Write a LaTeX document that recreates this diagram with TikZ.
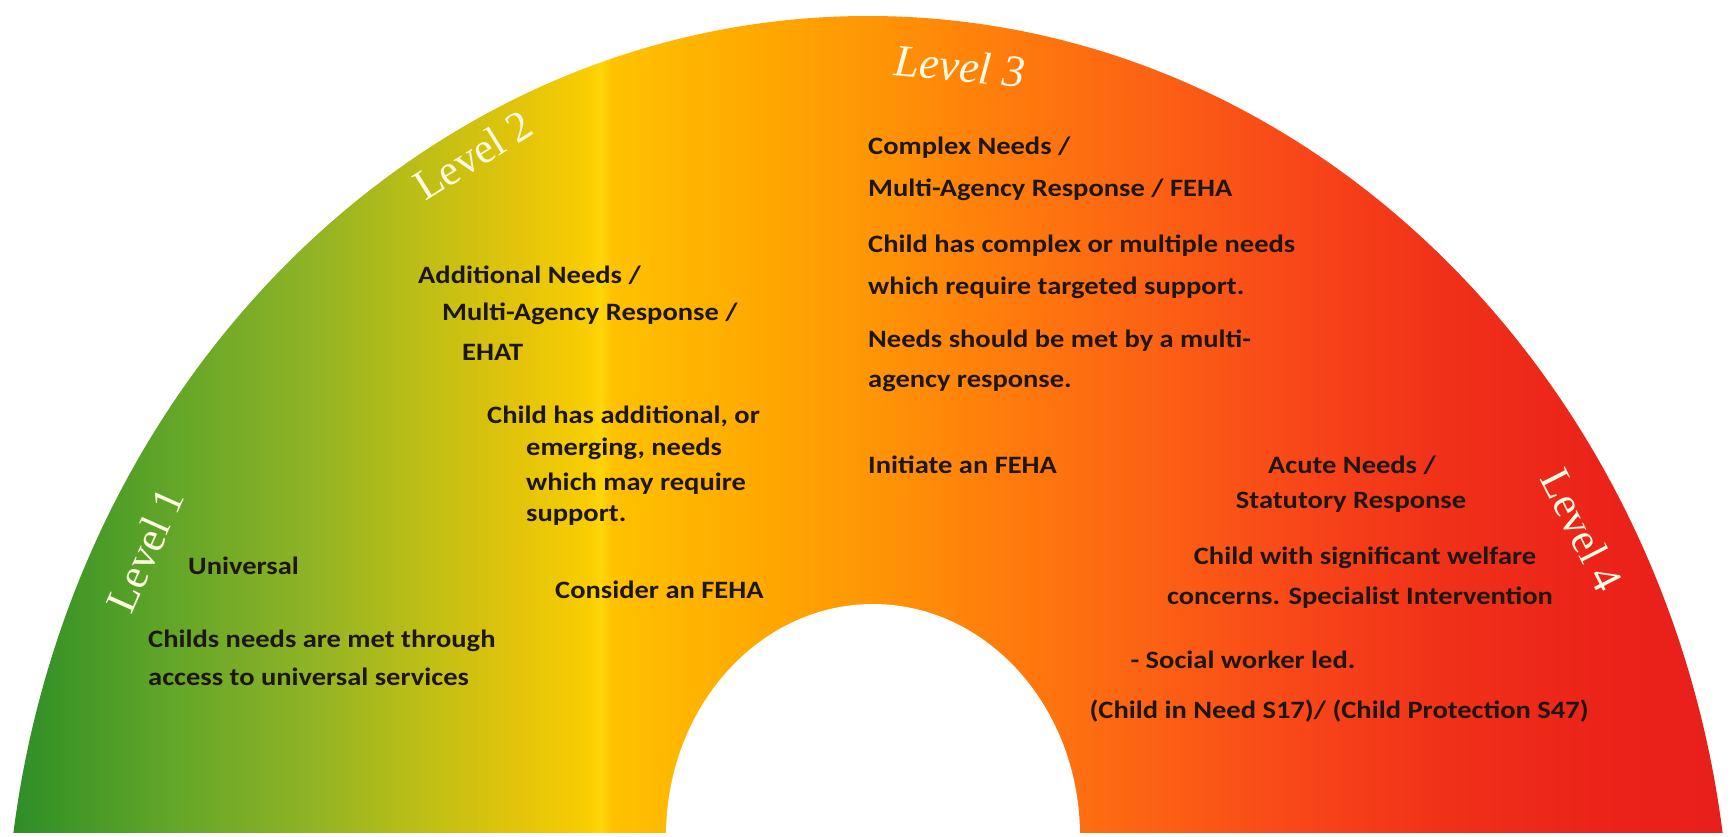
\documentclass[tikz,border=0pt]{standalone}
\usepackage{fontspec}
\newfontfamily\bodyfont{Carlito}[FakeStretch=1.14]
\newfontfamily\lvlfont{Liberation Serif}
\definecolor{txtcol}{RGB}{30,22,16}
\definecolor{lvlcol}{RGB}{255,250,226}
\pgfdeclarehorizontalshading{lvlshade}{100bp}{%
rgb(0bp)=(0.16,0.55,0.15);
rgb(25bp)=(0.16,0.55,0.15);
rgb(29.32bp)=(0.36,0.64,0.157);
rgb(33.64bp)=(0.549,0.698,0.149);
rgb(37.10bp)=(0.74,0.745,0.086);
rgb(39.98bp)=(0.89,0.77,0.039);
rgb(41.99bp)=(0.980,0.804,0);
rgb(42.28bp)=(1,0.84,0.04);
rgb(42.63bp)=(1,0.76,0);
rgb(46.60bp)=(1,0.667,0);
rgb(50.06bp)=(1,0.588,0.02);
rgb(53.80bp)=(1,0.49,0.047);
rgb(58.12bp)=(0.988,0.384,0.078);
rgb(62.44bp)=(0.973,0.275,0.098);
rgb(66.76bp)=(0.941,0.188,0.098);
rgb(71.08bp)=(0.922,0.137,0.098);
rgb(75bp)=(0.91,0.118,0.11);
rgb(100bp)=(0.91,0.118,0.11)}
\tikzset{
  txt/.style={font=\bodyfont\bfseries\fontsize{25}{30}\selectfont, text=txtcol, inner sep=0pt},
  lvltxt/.style={font=\lvlfont\fontsize{43}{48}\selectfont, text=lvlcol, inner sep=0pt}
}
\begin{document}
\begin{tikzpicture}[x=1pt,y=-1pt]
\useasboundingbox (0,0) rectangle (1736,836);
\fill[white] (0,0) rectangle (1736,836);
% rainbow band
\begin{scope}
  \clip (0,0) rectangle (1736,832);
  \clip (868,966) ellipse [x radius=863, y radius=950];
  \shade[shading=lvlshade] (0,0) rectangle (1736,836);
\end{scope}
\fill[white] (873,836) ellipse [x radius=207, y radius=232];
% level labels
\node[lvltxt, rotate=66] (lv1) at (145,550) {Level 1};
\node[lvltxt, rotate=32] (lv2) at (473,155) {Level 2};
\node[lvltxt, rotate=-5, font=\lvlfont\itshape\fontsize{45}{48}\selectfont] (lv3) at (960,66) {Level 3};
\node[lvltxt, rotate=-63] (lv4) at (1582,530) {Level 4};
% level 1 text
\node[txt, anchor=west] (univ) at (188,566) {Universal};
\node[txt, anchor=west] (l1a) at (148,641) {Childs needs are met through};
\node[txt, anchor=west] (l1b) at (148,677) {access to universal services};
% level 2 text
\node[txt, anchor=west] (l2a) at (418,275) {Additional Needs /};
\node[txt, anchor=west] (l2b) at (442,314) {Multi-Agency Response /};
\node[txt, anchor=west] (l2c) at (462,352) {EHAT};
\node[txt, anchor=west] (l2d) at (487,416) {Child has additional, or};
\node[txt, anchor=west] (l2e) at (526,449) {emerging, needs};
\node[txt, anchor=west] (l2f) at (526,484) {which may require};
\node[txt, anchor=west] (l2g) at (526,516) {support.};
\node[txt, anchor=west] (l2h) at (555,590) {Consider an FEHA};
% level 3 text
\node[txt, anchor=west] (l3a) at (868,148) {Complex Needs /};
\node[txt, anchor=west] (l3b) at (868,190) {Multi-Agency Response / FEHA};
\node[txt, anchor=west] (l3c) at (868,246) {Child has complex or multiple needs};
\node[txt, anchor=west] (l3d) at (868,288) {which require targeted support.};
\node[txt, anchor=west] (l3e) at (868,341) {Needs should be met by a multi-};
\node[txt, anchor=west] (l3f) at (868,383) {agency response.};
\node[txt, anchor=west] (l3g) at (868,465) {Initiate an FEHA};
% level 4 text
\node[txt] (l4a) at (1352,465) {Acute Needs /};
\node[txt] (l4b) at (1351,502) {Statutory Response};
\node[txt] (l4c) at (1365,558) {Child with significant welfare};
\node[txt] (l4d) at (1360,598) {concerns. Specialist Intervention};
\node[txt] (l4e) at (1243,660) {- Social worker led.};
\node[txt] (l4f) at (1339,711) {(Child in Need S17)/ (Child Protection S47)};
\end{tikzpicture}
\end{document}
